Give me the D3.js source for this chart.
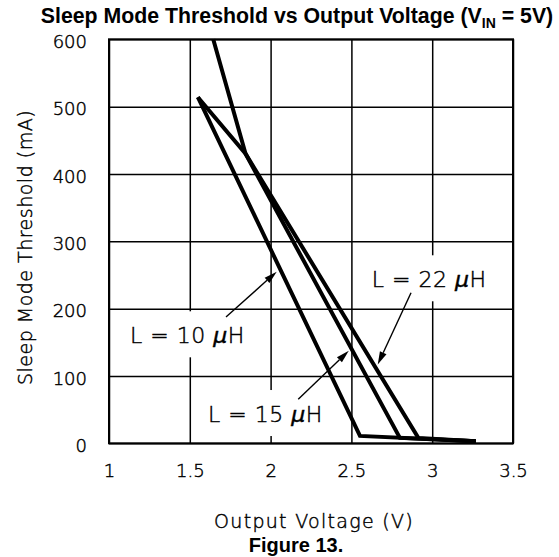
<!DOCTYPE html>
<html>
<head>
<meta charset="utf-8">
<script src="https://cdn.jsdelivr.net/npm/d3@7"></script>
<style>
  html, body { margin: 0; padding: 0; background: #fff; }
  svg { display: block; }
</style>
</head>
<body>
<svg id="chart" width="559" height="557"></svg>
<script>
// ---- data ----
const xTicks = [1, 1.5, 2, 2.5, 3, 3.5];
const yTicks = [0, 100, 200, 300, 400, 500, 600];

const l10Volt = [1.55, 2.553, 3.27];
const l10mA   = [514, 11, 3];

const l15Volt = [1.645, 1.845, 2.80, 3.27];
const l15mA   = [600, 430, 8, 3];

const l22Volt = [1.55, 1.845, 2.914, 3.27];
const l22mA   = [514, 430, 8, 3];

const labelNames = ["L = 10 ", "L = 15 ", "L = 22 "];
const labelVolt = [1.13, 1.613, 2.626];
const labelmA   = [148.5, 31.6, 231.7];
const arrowFromVolt = [1.724, 2.171, 2.869];
const arrowFrommA   = [187.6, 65.3, 223.7];
const arrowToVolt   = [2.038, 2.484, 2.663];
const arrowTomA     = [254.9, 137.5, 117.0];

// ---- layout ----
const svg = d3.select("#chart");
const m = { left: 109, right: 513, top: 39.3, bottom: 443.3 };
const W = m.right - m.left, H = m.bottom - m.top;

const x = d3.scaleLinear().domain([1, 3.5]).range([m.left, m.right]);
const y = d3.scaleLinear().domain([0, 600]).range([m.bottom, m.top]);

const tickFont = "'DejaVu Sans', sans-serif";
const tickWeight = 200;
const thin = sel => sel.attr("font-family", tickFont).attr("font-weight", tickWeight)
  .attr("fill", "#000").attr("stroke", "#000").attr("stroke-width", 0.45);

// title
const title = svg.append("text")
  .attr("x", 297).attr("y", 23)
  .attr("text-anchor", "middle")
  .attr("font-family", "'Liberation Sans', Arial, sans-serif")
  .attr("font-weight", "bold")
  .attr("font-size", 21.3)
  .attr("fill", "#000");
title.append("tspan").text("Sleep Mode Threshold vs Output Voltage (V");
title.append("tspan").attr("font-size", 14).attr("dy", 5).text("IN");
title.append("tspan").attr("dy", -5).text(" = 5V)");

// grid via axes
const gx = svg.append("g")
  .attr("transform", `translate(0,${m.bottom})`)
  .call(d3.axisBottom(x).tickValues(xTicks).tickSize(-H).tickPadding(21)
        .tickFormat(d => String(d)));
gx.select(".domain").remove();
gx.selectAll(".tick line").attr("stroke", "#000").attr("stroke-width", 1.5);
gx.selectAll(".tick text").call(thin).attr("font-size", 18);

const gy = svg.append("g")
  .attr("transform", `translate(${m.left},0)`)
  .call(d3.axisLeft(y).tickValues(yTicks).tickSize(-W).tickPadding(22));
gy.select(".domain").remove();
gy.selectAll(".tick line").attr("stroke", "#000").attr("stroke-width", 1.5);
gy.selectAll(".tick text").call(thin).attr("font-size", 18).attr("dy", "0.45em");

// frame
svg.append("rect")
  .attr("x", m.left).attr("y", m.top).attr("width", W).attr("height", H)
  .attr("fill", "none").attr("stroke", "#000").attr("stroke-width", 2);

// label boxes (white background covering grid)
const labelG = svg.append("g");
const labelTexts = labelNames.map((name, i) => {
  const t = labelG.append("text")
    .attr("x", x(labelVolt[i])).attr("y", y(labelmA[i]))
    .call(thin).attr("font-size", 22)
    .attr("letter-spacing", 0.5);
  t.append("tspan").text(name);
  t.append("tspan").attr("font-style", "italic").text("\u00b5");
  t.append("tspan").text("H");
  return t;
});
labelTexts.forEach((t, i) => {
  const w = t.node().getComputedTextLength();
  labelG.insert("rect", "text")
    .attr("x", x(labelVolt[i]) - 8).attr("y", y(labelmA[i]) - 32)
    .attr("width", w + 16).attr("height", 46)
    .attr("fill", "#fff").attr("stroke", "none");
});

// data lines
const line = d3.line().x(d => x(d[0])).y(d => y(d[1]));
const series = [
  d3.zip(l10Volt, l10mA),
  d3.zip(l15Volt, l15mA),
  d3.zip(l22Volt, l22mA)
];
svg.append("g").selectAll("path").data(series).join("path")
  .attr("d", line)
  .attr("fill", "none").attr("stroke", "#000")
  .attr("stroke-width", 4).attr("stroke-linejoin", "miter");

// arrows
const ag = svg.append("g");
labelNames.forEach((_, i) => {
  const x1 = x(arrowFromVolt[i]), y1 = y(arrowFrommA[i]);
  const x2 = x(arrowToVolt[i]), y2 = y(arrowTomA[i]);
  const ang = Math.atan2(y2 - y1, x2 - x1);
  const L = 13, hw = 3.6;
  const bx = x2 - L * Math.cos(ang), by = y2 - L * Math.sin(ang);
  ag.append("line").attr("x1", x1).attr("y1", y1).attr("x2", bx).attr("y2", by)
    .attr("stroke", "#000").attr("stroke-width", 1.4);
  const px = -Math.sin(ang) * hw, py = Math.cos(ang) * hw;
  ag.append("path")
    .attr("d", `M${x2},${y2}L${bx + px},${by + py}L${bx - px},${by - py}Z`)
    .attr("fill", "#000");
});

// axis titles
svg.append("text")
  .attr("x", 314).attr("y", 527.5)
  .attr("text-anchor", "middle")
  .call(thin).attr("font-size", 19)
  .attr("letter-spacing", 1.3)
  .text("Output Voltage (V)");

svg.append("text")
  .attr("transform", "translate(31.5,247.5) rotate(-90)")
  .attr("text-anchor", "middle")
  .call(thin).attr("font-size", 19)
  .attr("letter-spacing", 0.5)
  .text("Sleep Mode Threshold (mA)");

svg.append("text")
  .attr("x", 296).attr("y", 552)
  .attr("text-anchor", "middle")
  .attr("font-family", "'Liberation Sans', Arial, sans-serif")
  .attr("font-weight", "bold").attr("font-size", 20).attr("fill", "#000")
  .text("Figure 13.");
</script>
</body>
</html>
